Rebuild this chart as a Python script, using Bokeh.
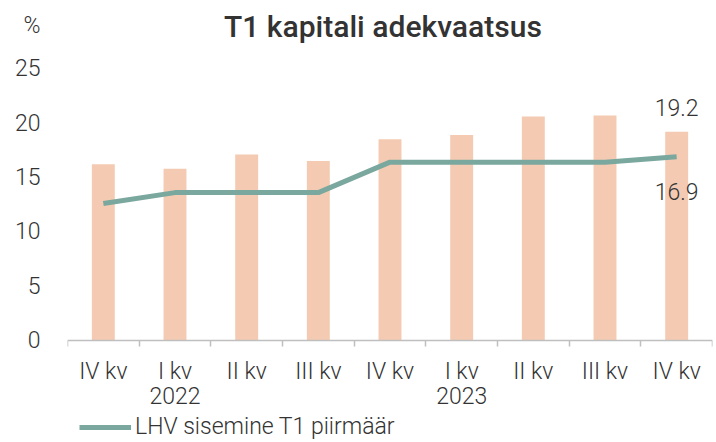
from bokeh.plotting import figure
from bokeh.models import Range1d, FixedTicker, Label, Legend, LegendItem
from bokeh.embed import file_html
from bokeh.resources import INLINE

quarters = ["IV kv", "I kv", "II kv", "III kv", "IV kv", "I kv", "II kv", "III kv", "IV kv"]
years = ["", "2022", "", "", "", "2023", "", "", ""]
t1_ratio = [16.2, 15.8, 17.1, 16.5, 18.5, 18.9, 20.6, 20.7, 19.2]
t1_min = [12.6, 13.6, 13.6, 13.6, 16.4, 16.4, 16.4, 16.4, 16.9]
y_ticks = [0, 5, 10, 15, 20, 25]
unit_label = "%"
series_name = "LHV sisemine T1 piirmäär"
title = "T1 kapitali adekvaatsus"

FONT = "Roboto Light, Roboto"
TFONT = "Roboto Medium, Roboto"
TXT = "#333333"
BAR = "#F4CBB2"
LINE = "#7BA89E"
Y_TOP = 30.9       # top of the frame (room for unit label and title)
Y_BOTTOM = -9.2    # bottom of the frame (room for axis labels and legend)
UNIT_POS = 29      # vertical position of the unit label in axis units

xs = list(range(len(quarters)))

p = figure(width=714, height=440, output_backend="svg", toolbar_location=None,
           x_range=Range1d(-0.5, len(quarters) - 0.5), y_range=Range1d(Y_BOTTOM, Y_TOP),
           min_border_left=67, min_border_right=2, min_border_top=4, min_border_bottom=0)
p.title.visible = False
p.outline_line_color = None
p.xgrid.visible = False
p.ygrid.visible = False

p.vbar(x=xs, top=t1_ratio, bottom=0, width=0.32, fill_color=BAR, line_color=None)
line_r = p.line(xs, t1_min, line_width=5, line_color=LINE)

xa = p.xaxis[0]
xa.fixed_location = 0
xa.ticker = FixedTicker(ticks=xs, minor_ticks=[i - 0.5 for i in range(len(quarters) + 1)])
xa.major_label_overrides = {i: (quarters[i] + ("\n" + years[i] if years[i] else "")) for i in xs}
xa.major_tick_line_color = None
xa.minor_tick_line_color = "#BFBFBF"
xa.minor_tick_line_width = 1.5
xa.minor_tick_out = 6
xa.minor_tick_in = 0
xa.axis_line_color = "#BFBFBF"
xa.axis_line_width = 1.5
xa.major_label_standoff = 12
xa.major_label_text_font = FONT
xa.major_label_text_font_size = "23px"
xa.major_label_text_color = TXT
xa.major_label_text_line_height = 0.9

ya = p.yaxis[0]
ya.ticker = FixedTicker(ticks=y_ticks + [UNIT_POS])
ya.major_label_overrides = {UNIT_POS: unit_label}
ya.axis_line_color = None
ya.major_tick_line_color = None
ya.minor_tick_line_color = None
ya.major_label_standoff = 21
ya.major_label_text_font = FONT
ya.major_label_text_font_size = "23px"
ya.major_label_text_color = TXT

p.add_layout(Label(x=(len(quarters) - 1) / 2, y=Y_TOP, x_offset=-7, y_offset=-22, text=title,
                   text_font=TFONT, text_font_size="30px", text_color=TXT,
                   text_align="center", text_baseline="alphabetic"))
p.add_layout(Label(x=xs[-1], y=t1_ratio[-1], y_offset=24, text=f"{t1_ratio[-1]}",
                   text_font=FONT, text_font_size="23px", text_color=TXT,
                   text_align="center", text_baseline="middle"))
p.add_layout(Label(x=xs[-1], y=t1_min[-1], y_offset=-35, text=f"{t1_min[-1]}",
                   text_font=FONT, text_font_size="23px", text_color=TXT,
                   text_align="center", text_baseline="middle"))

legend = Legend(items=[LegendItem(label=series_name, renderers=[line_r])],
                location=(12, 0), glyph_width=52, glyph_height=20, label_standoff=4,
                label_text_font=FONT, label_text_font_size="23px", label_text_color=TXT,
                border_line_color=None, background_fill_alpha=0, padding=0, margin=0)
p.add_layout(legend)

open("out.html", "w").write(file_html(p, INLINE))
